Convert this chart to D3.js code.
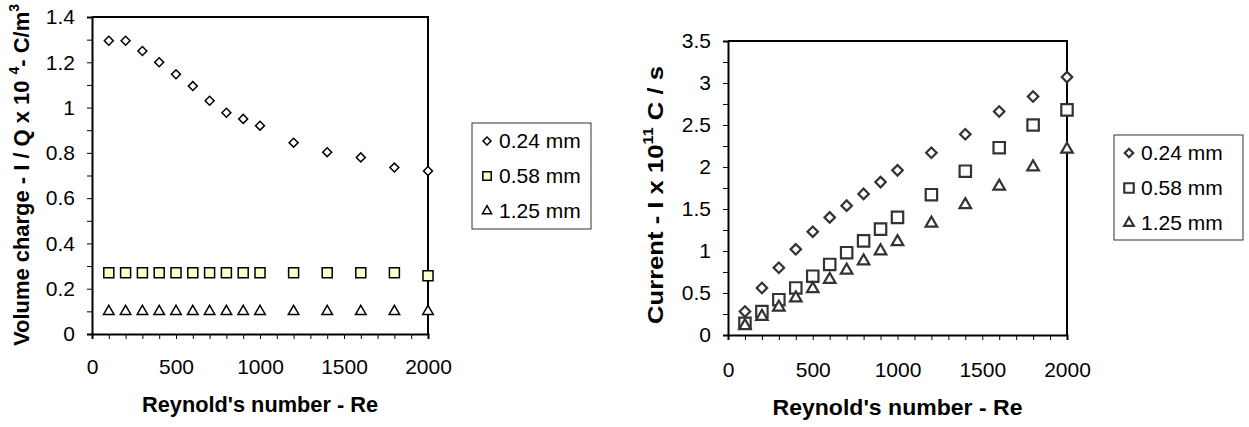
<!DOCTYPE html>
<html>
<head>
<meta charset="utf-8">
<script src="https://cdn.jsdelivr.net/npm/d3@7"></script>
<style>
  body { margin: 0; background: #fff; }
  svg { display: block; font-family: "Liberation Sans", Arial, sans-serif; }
</style>
</head>
<body>
<div id="chart"></div>
<script>
// data
var reynolds = [100, 200, 300, 400, 500, 600, 700, 800, 900, 1000, 1200, 1400, 1600, 1800, 2000];

var volume024 = [1.295, 1.295, 1.25, 1.2, 1.147, 1.095, 1.03, 0.977, 0.95, 0.92, 0.845, 0.803, 0.78, 0.735, 0.72];
var volume058 = [0.27, 0.27, 0.27, 0.27, 0.27, 0.27, 0.27, 0.27, 0.27, 0.27, 0.27, 0.27, 0.27, 0.27, 0.257];
var volume125 = [0.1, 0.1, 0.1, 0.1, 0.1, 0.1, 0.1, 0.1, 0.1, 0.1, 0.1, 0.1, 0.1, 0.1, 0.1];

var current024 = [0.28, 0.56, 0.8, 1.02, 1.23, 1.4, 1.54, 1.68, 1.82, 1.96, 2.17, 2.39, 2.66, 2.84, 3.07];
var current058 = [0.14, 0.28, 0.42, 0.56, 0.7, 0.84, 0.98, 1.12, 1.26, 1.4, 1.67, 1.95, 2.23, 2.5, 2.68];
var current125 = [0.11, 0.22, 0.33, 0.44, 0.55, 0.66, 0.77, 0.88, 1.0, 1.11, 1.33, 1.55, 1.77, 2.0, 2.21];

var seriesNames = ["0.24 mm", "0.58 mm", "1.25 mm"];
var xTicks = d3.range(0, 2001, 100);
var volumeTicks = d3.range(0, 1.41, 0.1);
var currentTicks = d3.range(0, 3.51, 0.25);

var svg = d3.select("#chart").append("svg")
    .attr("width", 1249)
    .attr("height", 427);

function markerPath(kind, size) {
    if (kind === "triangle") return d3.symbol(d3.symbolTriangle, size)();
    return d3.symbol(d3.symbolSquare, size)();
}

function drawMarker(g, kind, size, x, y, stroke, fill, sw) {
    g.append("path")
        .attr("d", markerPath(kind, size))
        .attr("transform", "translate(" + x + "," + y + ")" + (kind === "diamond" ? " rotate(45)" : ""))
        .attr("fill", fill)
        .attr("stroke", stroke)
        .attr("stroke-width", sw);
}

function drawChart(c) {
    var g = svg.append("g");
    var x = d3.scaleLinear().domain([0, 2000]).range([c.left, c.right]);
    var y = d3.scaleLinear().domain([0, c.ymax]).range([c.bottom, c.top]);

    // x axis
    var xAxis = g.append("g")
        .attr("transform", "translate(0," + c.bottom + ")")
        .call(d3.axisBottom(x).tickValues(xTicks).tickSizeOuter(0).tickSize(5).tickPadding(c.xPad)
            .tickFormat(function(d) { return d % 500 === 0 ? d : ""; }));
    xAxis.selectAll("text").attr("font-size", 21).attr("fill", "#000").attr("font-family", "Liberation Sans, Arial, sans-serif");

    // y axis
    var yAxis = g.append("g")
        .attr("transform", "translate(" + c.left + ",0)")
        .call(d3.axisLeft(y).tickValues(c.yTicks).tickSizeOuter(0).tickSize(5).tickPadding(12)
            .tickFormat(function(d) {
                var v = Math.round(d * 100) / 100;
                return Math.abs(v / c.major - Math.round(v / c.major)) < 1e-6 ? d3.format("")(v) : "";
            }));
    yAxis.selectAll("text").attr("font-size", 21).attr("fill", "#000").attr("font-family", "Liberation Sans, Arial, sans-serif");

    [xAxis, yAxis].forEach(function(a) {
        a.select(".domain").attr("stroke", "#000").attr("stroke-width", 2);
        a.selectAll(".tick line").attr("stroke", "#000").attr("stroke-width", 1);
    });

    // frame top and right
    g.append("path")
        .attr("d", "M" + c.left + "," + c.top + "H" + c.right + "V" + c.bottom)
        .attr("fill", "none").attr("stroke", "#000").attr("stroke-width", 2);

    // points
    var kinds = ["diamond", "square", "triangle"];
    c.series.forEach(function(vals, i) {
        vals.forEach(function(v, j) {
            drawMarker(g, kinds[i], c.sizes[i], x(reynolds[j]), y(v), c.stroke, c.fills[i], c.sw);
        });
    });

    // axis titles
    g.append("text")
        .attr("x", (c.left + c.right) / 2)
        .attr("y", c.xTitleY)
        .attr("text-anchor", "middle")
        .attr("font-size", 22).attr("font-weight", "bold")
        .attr("textLength", c.xTitleLen).attr("lengthAdjust", "spacingAndGlyphs")
        .text("Reynold's number - Re");

    var yt = g.append("text")
        .attr("transform", "translate(" + c.yTitleX + "," + c.yTitleY + ") rotate(-90)")
        .attr("text-anchor", "middle")
        .attr("font-size", 22).attr("font-weight", "bold")
        .attr("textLength", c.yTitleLen).attr("lengthAdjust", "spacingAndGlyphs");
    c.yTitle.forEach(function(part) {
        var t = yt.append("tspan").text(part[0]);
        if (part[1]) t.attr("font-size", 14).attr("dy", -10);
        else if (part[2]) t.attr("dy", 10);
    });

    // legend
    var lg = g.append("g");
    lg.append("rect")
        .attr("x", c.legend.x).attr("y", c.legend.y)
        .attr("width", c.legend.w).attr("height", c.legend.h)
        .attr("fill", "#fff").attr("stroke", "#333").attr("stroke-width", 1);
    seriesNames.forEach(function(name, i) {
        var cy = c.legend.y + 18 + i * c.legend.step;
        drawMarker(lg, kinds[i], c.legendSizes[i], c.legend.x + 15, cy, c.stroke, c.fills[i], c.sw);
        lg.append("text")
            .attr("x", c.legend.x + 27).attr("y", cy + 7)
            .attr("font-size", 21)
            .text(name);
    });
}

drawChart({
    left: 92, right: 428, top: 17, bottom: 334, ymax: 1.4,
    yTicks: volumeTicks, major: 0.2, xPad: 20,
    series: [volume024, volume058, volume125],
    sizes: [40, 100, 48], legendSizes: [32, 70, 36],
    stroke: "#000", fills: ["#fff", "#ffffcc", "#fff"], sw: 1.5,
    xTitleY: 412, xTitleLen: 236,
    yTitleX: 29, yTitleY: 175, yTitleLen: 342,
    yTitle: [["Volume charge - I / Q x 10 "], ["4", true], ["- C/m", false, true], ["3", true]],
    legend: { x: 472, y: 123, w: 119, h: 106, step: 35 }
});

drawChart({
    left: 728, right: 1067, top: 41, bottom: 335, ymax: 3.5,
    yTicks: currentTicks, major: 0.5, xPad: 22,
    series: [current024, current058, current125],
    sizes: [55, 130, 58], legendSizes: [36, 90, 40],
    stroke: "#333", fills: ["#fff", "#fff", "#fff"], sw: 2.2,
    xTitleY: 415, xTitleLen: 250,
    yTitleX: 663, yTitleY: 195, yTitleLen: 258,
    yTitle: [["Current - I x 10"], ["11", true], ["  C / s", false, true]],
    legend: { x: 1114, y: 135, w: 129, h: 105, step: 35 }
});
</script>
</body>
</html>
